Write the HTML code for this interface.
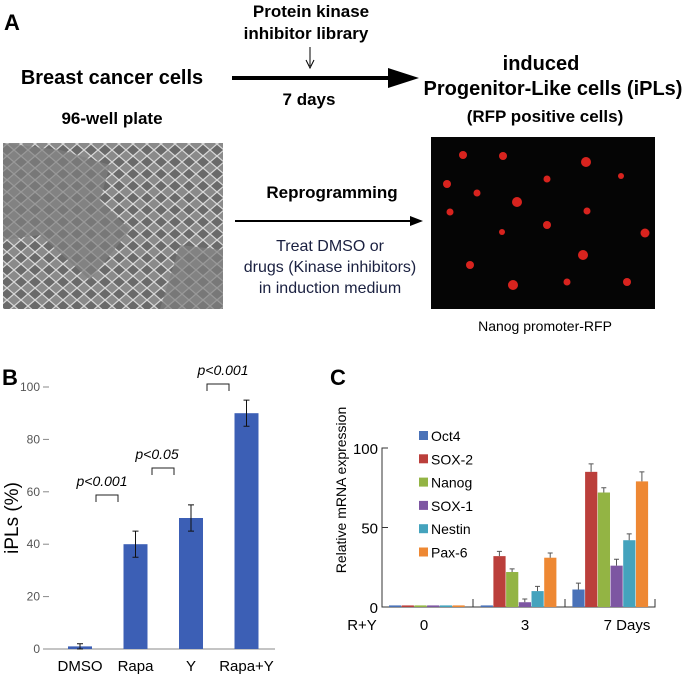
<!DOCTYPE html>
<html><head><meta charset="utf-8"><style>
body{margin:0;background:#fff;width:685px;height:676px;overflow:hidden;font-family:"Liberation Sans",sans-serif}
svg text{font-family:"Liberation Sans",sans-serif}
</style></head><body>
<svg id="fig" width="685" height="676">
<defs>
<pattern id="cells" width="14" height="12" patternUnits="userSpaceOnUse"><rect width="14" height="12" fill="#8a8a8a"/><path d="M0 6 L7 0 L14 6 L7 12Z" fill="#6a6a6a" stroke="#d8d8d8" stroke-width="1.2"/></pattern>
</defs>
<g>
<text x="4" y="30" font-size="22" font-weight="bold">A</text>
<text x="311" y="17" font-size="17" font-weight="bold" text-anchor="middle">Protein kinase</text>
<text x="306" y="39" font-size="17" font-weight="bold" text-anchor="middle">inhibitor library</text>
<line x1="310" y1="47" x2="310" y2="66" stroke="#000"/><path d="M306 60 L310 68 L314 60" fill="none" stroke="#000"/>
<text x="112" y="84" font-size="20" font-weight="bold" text-anchor="middle">Breast cancer cells</text>
<text x="112" y="124" font-size="17" font-weight="bold" text-anchor="middle">96-well plate</text>
<line x1="232" y1="78" x2="395" y2="78" stroke="#000" stroke-width="4"/><path d="M388 68 L419 78 L388 88Z" fill="#000"/>
<text x="309" y="105" font-size="17" font-weight="bold" text-anchor="middle">7 days</text>
<text x="541" y="70" font-size="20" font-weight="bold" text-anchor="middle">induced</text>
<text x="553" y="95" font-size="20" font-weight="bold" text-anchor="middle">Progenitor-Like cells (iPLs)</text>
<text x="545" y="122" font-size="17" font-weight="bold" text-anchor="middle">(RFP positive cells)</text>
<rect x="3" y="143" width="220" height="166" fill="url(#cells)"/>
<path d="M60 150 L110 165 L100 200 L130 230 L90 280 L40 235 L3 240 L3 143Z M180 245 L223 250 L223 309 L160 309Z" fill="#7f7f7f" opacity="0.7"/>
<text x="332" y="198" font-size="17" font-weight="bold" text-anchor="middle">Reprogramming</text>
<line x1="235" y1="221" x2="412" y2="221" stroke="#000" stroke-width="2"/><path d="M410 216 L423 221 L410 226Z" fill="#000"/>
<g fill="#1a2040" font-size="16" text-anchor="middle">
<text x="330" y="251">Treat DMSO or</text>
<text x="330" y="272">drugs (Kinase inhibitors)</text>
<text x="330" y="293">in induction medium</text></g>
<rect x="431" y="137" width="224" height="172" fill="#050505"/>
<g fill="#d8231e">
<circle cx="463" cy="155" r="4"/><circle cx="503" cy="156" r="4"/><circle cx="586" cy="162" r="5"/><circle cx="547" cy="179" r="3.5"/><circle cx="621" cy="176" r="3"/><circle cx="447" cy="184" r="4"/><circle cx="477" cy="193" r="3.5"/><circle cx="517" cy="202" r="5"/><circle cx="587" cy="211" r="3.5"/><circle cx="450" cy="212" r="3.5"/><circle cx="547" cy="225" r="4"/><circle cx="645" cy="233" r="4.5"/><circle cx="502" cy="232" r="3"/><circle cx="583" cy="255" r="5"/><circle cx="470" cy="265" r="4"/><circle cx="513" cy="285" r="5"/><circle cx="567" cy="282" r="3.5"/><circle cx="627" cy="282" r="4"/></g>
<text x="545" y="331" font-size="14" text-anchor="middle">Nanog promoter-RFP</text>
</g>
<text x="2" y="385" font-size="22" font-weight="bold">B</text>
<g id="chartB"></g>
<text x="330" y="385" font-size="22" font-weight="bold">C</text>
<g id="chartC"></g>
</svg>
<script>
const bCategories=["DMSO","Rapa","Y","Rapa+Y"];
const bValues=[1,40,50,90];
const bErrors=[1,5,5,5];
const bTicks=[0,20,40,60,80,100];
const cGroups=["0","3","7 Days"];
const cSeries=["Oct4","SOX-2","Nanog","SOX-1","Nestin","Pax-6"];
const cColors=["#4a72b8","#bb3f3b","#93b444","#7d56a2","#44a3bd","#ee8833"];
const cValues=[[1,1,1,1,1,1],[1,32,22,3,10,31],[11,85,72,26,42,79]];
const cErrors=[[0,0,0,0,0,0],[0,3,2,2,3,3],[4,5,3,4,4,6]];
const cTicks=[0,50,100];
const NS="http://www.w3.org/2000/svg";
function mk(p,t,a,txt){const e=document.createElementNS(NS,t);for(const k in a)e.setAttribute(k,a[k]);if(txt!==undefined)e.textContent=txt;p.appendChild(e);return e;}
// Chart B
const gB=document.getElementById('chartB');
const yB=v=>649-v*2.62;
const xB=i=>80+i*55.5;
mk(gB,'line',{x1:43,y1:649,x2:275,y2:649,stroke:'#888'});
bTicks.forEach(t=>{const e=mk(gB,'text',{x:40,y:yB(t)+4,'font-size':12,fill:'#555','text-anchor':'end'},t);


mk(gB,'line',{x1:43,y1:yB(t),x2:49,y2:yB(t),stroke:'#888'});});
const yt=mk(gB,'text',{x:18,y:518,'font-size':19,'text-anchor':'middle',transform:'rotate(-90 18 518)'},'iPLs (%)');


bCategories.forEach((c,i)=>{const x=xB(i);
const r=mk(gB,'rect',{x:x-12,y:yB(bValues[i]),width:24,height:649-yB(bValues[i]),fill:'#3c5fb5'});


mk(gB,'path',{d:`M${x} ${yB(bValues[i]-bErrors[i])}V${yB(bValues[i]+bErrors[i])}M${x-3} ${yB(bValues[i]-bErrors[i])}h6M${x-3} ${yB(bValues[i]+bErrors[i])}h6`,stroke:'#111',fill:'none'});
const t=mk(gB,'text',{x:x,y:671,'font-size':15,'text-anchor':'middle'},c);

});
[["p<0.001",107,494,102],["p<0.05",163,467,157],["p<0.001",218,383,223]].forEach(([s,bx,by,tx])=>{
mk(gB,'path',{d:`M${bx-11} ${by+8}v-7h22v7`,stroke:'#222',fill:'none'});
const t=mk(gB,'text',{x:tx,y:by-8,'font-size':14,'font-style':'italic','text-anchor':'middle'},s);

});
// Chart C
const gC=document.getElementById('chartC');
const yC=v=>607-v*1.59;
const gx=i=>389+i*91.7;
mk(gC,'path',{d:'M388 448H382V607H655V599',stroke:'#333',fill:'none'});
[473,565].forEach(x=>mk(gC,'line',{x1:x,y1:599,x2:x,y2:607,stroke:'#333'}));
cTicks.forEach(t=>{mk(gC,'line',{x1:382,y1:yC(t),x2:388,y2:yC(t),stroke:'#333'});
const e=mk(gC,'text',{x:378,y:yC(t)+6,'font-size':15,'text-anchor':'end'},t);

});
const ct=mk(gC,'text',{x:346,y:490,'font-size':14,'text-anchor':'middle',transform:'rotate(-90 346 490)'},'Relative mRNA expression');


cGroups.forEach((gname,gi)=>{cSeries.forEach((s,si)=>{const v=cValues[gi][si],e=cErrors[gi][si];const x=gx(gi)+si*12.7;
const r=mk(gC,'rect',{x:x,y:yC(v),width:12.2,height:607-yC(v),fill:cColors[si]});


if(e>0)mk(gC,'path',{d:`M${x+6} ${yC(v)}V${yC(v+e)}M${x+3.5} ${yC(v+e)}h5`,stroke:'#555',fill:'none'});});});
[["R+Y",362],["0",424],["3",525],["7 Days",627]].forEach(([s,x])=>{const t=mk(gC,'text',{x:x,y:630,'font-size':15,'text-anchor':'middle'},s);

});
cSeries.forEach((s,i)=>{const y=437+i*23.3;
const r=mk(gC,'rect',{x:419,y:y-6,width:9,height:9,fill:cColors[i]});


const t=mk(gC,'text',{x:431,y:y+4,'font-size':14},s);

});
</script>
</body></html>
